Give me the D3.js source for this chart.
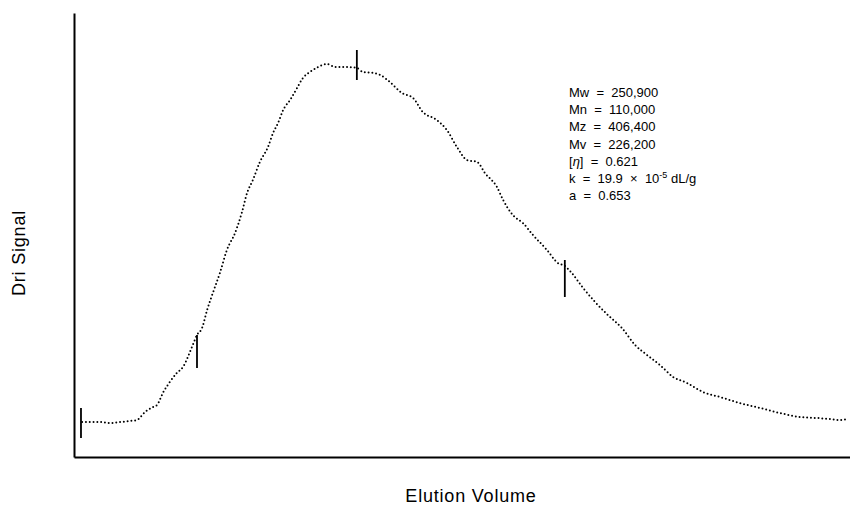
<!DOCTYPE html>
<html>
<head>
<meta charset="utf-8">
<script src="https://cdn.jsdelivr.net/npm/d3@7"></script>
<style>
  html, body { margin: 0; padding: 0; background: #fff; }
  svg { display: block; }
  text { font-family: "Liberation Sans", Arial, Helvetica, sans-serif; fill: #000; }
</style>
</head>
<body>
<svg id="chart" width="850" height="506"></svg>
<script>
// Elution volume (mL, arbitrary scale) and DRI signal (arbitrary units)
const elutionVolume = [
  10.21, 10.41, 10.67, 10.93, 11.19, 11.44, 11.62, 11.83, 12.04, 12.14,
  12.29, 12.47, 12.65, 12.81, 13.04, 13.17, 13.30, 13.43, 13.56, 13.76,
  13.94, 14.15, 14.33, 14.46, 14.61, 14.79, 15.00, 15.13, 15.26, 15.39,
  15.57, 15.75, 15.90, 16.08, 16.29, 16.52, 16.73, 17.04, 17.29, 17.45,
  17.71, 17.89, 18.14, 18.45, 18.74, 18.99, 19.35, 19.61, 19.87, 20.13,
  20.39, 20.59, 20.90, 21.06, 21.31, 21.57, 21.83, 22.19, 22.47, 22.65,
  22.83, 23.12, 23.43, 23.76, 24.12, 24.46, 24.77, 25.10, 25.44, 25.80,
  26.21, 26.65, 27.16, 27.68, 28.19, 28.71, 29.15, 29.48, 29.74, 29.95
];
const driSignal = [
  7.88, 7.88, 7.88, 7.66, 7.88, 8.11, 8.33, 10.14, 11.26, 11.71,
  14.41, 16.89, 18.92, 20.27, 24.77, 27.48, 29.05, 33.11, 36.49, 41.44,
  46.62, 50.45, 55.18, 59.46, 62.39, 66.44, 69.82, 72.97, 75.23, 78.15,
  80.41, 83.11, 85.36, 86.71, 87.84, 88.51, 87.84, 87.84, 87.61, 86.71,
  86.49, 86.04, 84.46, 81.98, 80.86, 77.70, 75.90, 73.65, 69.82, 66.89,
  66.44, 63.96, 60.81, 57.88, 54.50, 52.70, 50.00, 46.62, 43.69, 43.02,
  41.44, 38.06, 34.91, 31.98, 29.05, 25.23, 22.97, 20.72, 18.02, 16.67,
  14.64, 13.51, 12.16, 11.04, 9.91, 9.01, 8.78, 8.56, 8.33, 8.56
];
// Vertical slice markers: volume, lower and upper signal of the bar
const markerVolumes = [10.18, 13.17, 17.29, 22.65];
const markerLow     = [4.28, 20.05, 84.91, 36.04];
const markerHigh    = [11.04, 27.48, 91.67, 44.37];

const xTitle = "Elution Volume";
const yTitle = "Dri Signal";
const resultLabels = ["Mw", "Mn", "Mz", "Mv", "[η]", "k", "a"];
const resultValues = ["250,900", "110,000", "406,400", "226,200", "0.621", "19.9  ×  10", "0.653"];

const svg = d3.select("#chart");
const mLeft = 74, mRight = 850, mTop = 13, mBottom = 457;

const x = d3.scaleLinear().domain([10, 30]).range([mLeft, mRight]);
const y = d3.scaleLinear().domain([0, 100]).range([mBottom, mTop]);

// axes (no ticks)
const xAxis = d3.axisBottom(x).tickValues([]).tickSizeOuter(0);
const yAxis = d3.axisLeft(y).tickValues([]).tickSizeOuter(0);
svg.append("g").attr("transform", `translate(0,${mBottom})`).call(xAxis)
  .select(".domain").attr("stroke", "#000").attr("stroke-width", 2);
svg.append("g").attr("transform", `translate(${mLeft},0)`).call(yAxis)
  .select(".domain").attr("stroke", "#000").attr("stroke-width", 2);

// dotted trace
const pts = elutionVolume.map((v, i) => [v, driSignal[i]]);
const line = d3.line().x(d => x(d[0])).y(d => y(d[1])).curve(d3.curveMonotoneX);
svg.append("path")
  .attr("d", line(pts))
  .attr("fill", "none")
  .attr("stroke", "#000")
  .attr("stroke-width", 2)
  .attr("stroke-linecap", "round")
  .attr("stroke-dasharray", "0 3.8");

// slice markers
svg.selectAll("line.marker").data(markerVolumes).join("line")
  .attr("class", "marker")
  .attr("x1", d => x(d)).attr("x2", d => x(d))
  .attr("y1", (d, i) => y(markerLow[i]))
  .attr("y2", (d, i) => y(markerHigh[i]))
  .attr("stroke", "#000").attr("stroke-width", 1.8);

// axis titles
svg.append("text")
  .attr("x", 471).attr("y", 502)
  .attr("text-anchor", "middle").attr("font-size", 18)
  .attr("letter-spacing", 0.8)
  .text(xTitle);
svg.append("text")
  .attr("transform", "translate(25,253) rotate(-90)")
  .attr("text-anchor", "middle").attr("font-size", 18)
  .attr("letter-spacing", 0.8)
  .text(yTitle);

// results block
const res = svg.append("g").attr("font-size", 13);
resultLabels.forEach((lab, i) => {
  const t = res.append("text").attr("x", 569).attr("y", 97 + i * 17.2)
    .attr("xml:space", "preserve").style("white-space", "pre");
  if (lab === "[η]") {
    t.append("tspan").text("[");
    t.append("tspan").attr("font-style", "italic").text("η");
    t.append("tspan").text("]  =  " + resultValues[i]);
  } else if (lab === "k") {
    t.append("tspan").text("k  =  " + resultValues[i]);
    t.append("tspan").attr("font-size", 9).attr("dy", -5).text("-5");
    t.append("tspan").attr("dy", 5).text(" dL/g");
  } else {
    t.text(lab + "  =  " + resultValues[i]);
  }
});
</script>
</body>
</html>
